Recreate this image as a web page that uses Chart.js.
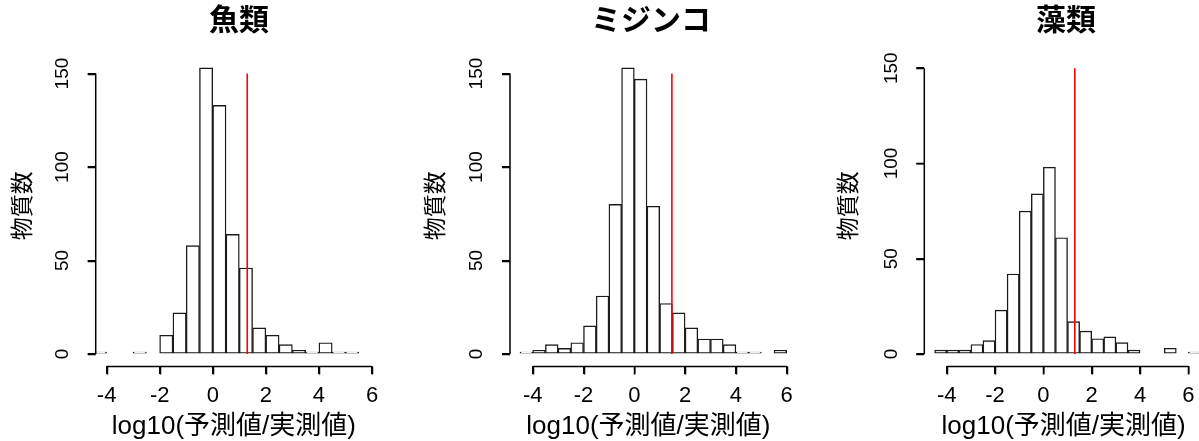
<!DOCTYPE html>
<html>
<head>
<meta charset="utf-8">
<script src="https://cdn.jsdelivr.net/npm/chart.js@4"></script>
<style>
  html, body { margin: 0; padding: 0; background: #fff; }
  #wrap { position: relative; width: 1199px; height: 441px; overflow: hidden; }
  .panel { position: absolute; top: 0; height: 441px; }
</style>
</head>
<body>
<div id="wrap">
  <div class="panel" style="left:0px;width:478px"><canvas id="chart1"></canvas></div>
  <div class="panel" style="left:400px;width:502px"><canvas id="chart2"></canvas></div>
  <div class="panel" style="left:820px;width:492px"><canvas id="chart3"></canvas></div>
</div>
<script>
// left edge of each histogram bin (bin width 0.5)
var binLeft = [-4.5, -4, -3.5, -3, -2.5, -2, -1.5, -1, -0.5, 0, 0.5, 1, 1.5, 2, 2.5, 3, 3.5, 4, 4.5, 5, 5.5, 6];
var binWidth = 0.5;

var fishCounts = [1, 0, 0, 1, 0, 10, 22, 58, 153, 133, 64, 46, 14, 10, 5, 2, 1, 6, 1, 1];
var daphniaCounts = [1, 2, 5, 3, 6, 15, 31, 80, 153, 147, 79, 27, 22, 14, 8, 8, 5, 1, 1, 0, 2];
var algaeCounts = [2, 2, 2, 5, 7, 23, 42, 75, 84, 98, 61, 17, 12, 8, 9, 6, 2, 0, 0, 3, 0, 1];

// red reference line for each panel
var redLineX = [1.3, 1.48, 1.3];
var redLineTop = 150;

var xTicks = [-4, -2, 0, 2, 4, 6];
var yTicks = [0, 50, 100, 150];

var titles = ["魚類", "ミジンコ", "藻類"];
var xLabel = "log10(予測値/実測値)";
var yLabel = "物質数";

var fontFam = "'Liberation Sans', 'Noto Sans CJK JP', Arial, sans-serif";
var ink = "#1a1a1a";
var axisInk = "#000000";

// R-style axis lines and tick marks, only from first to last tick
var axisLines = {
  id: "axisLines",
  afterDraw: function(chart) {
    var ctx = chart.ctx;
    var x = chart.scales.x, y = chart.scales.y;
    var left = chart.chartArea.left;
    var bottom = Math.round(chart.chartArea.bottom) + 0.5;
    ctx.save();
    ctx.strokeStyle = axisInk;
    ctx.lineWidth = 1.5;
    ctx.beginPath();
    ctx.moveTo(left, y.getPixelForValue(yTicks[0]));
    ctx.lineTo(left, y.getPixelForValue(yTicks[yTicks.length - 1]));
    ctx.moveTo(x.getPixelForValue(xTicks[0]), bottom);
    ctx.lineTo(x.getPixelForValue(xTicks[xTicks.length - 1]), bottom);
    for (let i = 0; i < xTicks.length; i++) {
      var px = Math.round(x.getPixelForValue(xTicks[i])) + 0.5;
      ctx.moveTo(px, bottom);
      ctx.lineTo(px, bottom + 8);
    }
    for (let j = 0; j < yTicks.length; j++) {
      var py = Math.round(y.getPixelForValue(yTicks[j])) + 0.5;
      ctx.moveTo(left, py);
      ctx.lineTo(left - 8, py);
    }
    ctx.stroke();
    ctx.restore();
  }
};

function makePanel(id, title, counts, redX, p) {
  var bars = [];
  for (let i = 0; i < counts.length; i++) {
    bars.push({ x: binLeft[i] + binWidth / 2, y: counts[i] });
  }
  new Chart(document.getElementById(id), {
    type: "bar",
    data: {
      datasets: [{
        type: "bar",
        data: bars,
        backgroundColor: "#fff",
        borderColor: ink,
        borderWidth: 1.4,
        borderSkipped: false,
        barPercentage: 1,
        categoryPercentage: 1,
        clip: { left: 0, top: false, right: false, bottom: false },
        order: 2
      }, {
        type: "line",
        data: [{ x: redX, y: 0 }, { x: redX, y: redLineTop }],
        borderColor: "red",
        borderWidth: 1.6,
        pointRadius: 0,
        order: 1
      }]
    },
    options: {
      responsive: true,
      maintainAspectRatio: false,
      animation: false,
      devicePixelRatio: 1,
      plugins: {
        legend: { display: false },
        tooltip: { enabled: false },
        title: {
          display: true,
          text: title,
          color: "#000",
          font: { family: fontFam, size: 30, weight: "bold", lineHeight: 1.2 },
          padding: { top: 4, bottom: 5.5 }
        }
      },
      scales: {
        x: {
          type: "linear",
          offset: false,
          min: p.xMin,
          max: p.xMax,
          afterBuildTicks: function(s) { s.ticks = xTicks.map(function(v) { return { value: v }; }); },
          afterFit: function(s) { s.height = 75; },
          grid: { offset: false, drawOnChartArea: false, drawTicks: true, tickLength: 8, color: axisInk, lineWidth: 1.5 },
          border: { display: false },
          ticks: { color: "#000", padding: 9, maxRotation: 0, font: { family: fontFam, size: 22 } },
          title: {
            display: true, text: xLabel, color: "#000",
            font: { family: fontFam, size: 26, lineHeight: 1 },
            padding: { top: 0, bottom: 1 }
          }
        },
        y: {
          min: p.yMin,
          max: p.yMax,
          afterBuildTicks: function(s) { s.ticks = yTicks.map(function(v) { return { value: v }; }); },
          afterFit: function(s) { s.width = p.yWidth; },
          grid: { drawOnChartArea: false, drawTicks: true, tickLength: 8, color: axisInk, lineWidth: 1.5 },
          border: { display: false },
          ticks: {
            color: "#000", padding: 9, minRotation: 90, maxRotation: 90, crossAlign: "center",
            font: { family: fontFam, size: 19 }
          },
          title: {
            display: true, text: yLabel, color: "#000",
            font: { family: fontFam, size: 23, lineHeight: 1.2 },
            padding: { top: p.yTitlePad, bottom: 0 }
          }
        },
        // empty box on the right so the title centres like the original
        spacer: {
          type: "linear",
          position: "right",
          min: 0,
          max: 1,
          afterFit: function(s) { s.width = p.rightW; },
          grid: { display: false },
          border: { display: false },
          ticks: { display: false }
        }
      }
    },
    plugins: [axisLines]
  });
}

makePanel("chart1", titles[0], fishCounts, redLineX[0],
  { xMin: -4.41, xMax: 6, yMin: -6.42, yMax: 165, yWidth: 95.7, rightW: 106, yTitlePad: 10.2 });
makePanel("chart2", titles[1], daphniaCounts, redLineX[1],
  { xMin: -4.894, xMax: 6, yMin: -6.42, yMax: 165, yWidth: 110, rightW: 115.3, yTitlePad: 23.2 });
makePanel("chart3", titles[2], algaeCounts, redLineX[2],
  { xMin: -4.927, xMax: 6.6, yMin: -6.30, yMax: 161.9, yWidth: 104.3, rightW: 109.1, yTitlePad: 16.2 });
</script>
</body>
</html>
